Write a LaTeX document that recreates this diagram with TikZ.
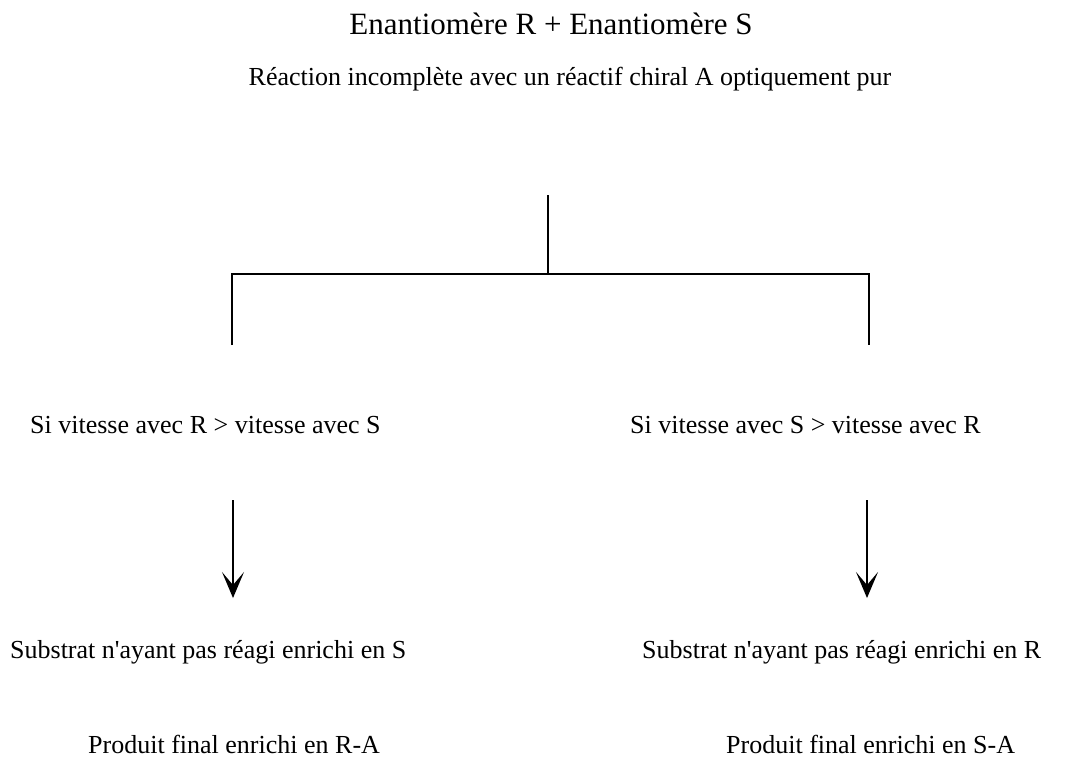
\documentclass[tikz,border=0pt]{standalone}
\usepackage{fontspec}
\setmainfont{Liberation Serif}
\usetikzlibrary{arrows.meta}
\begin{document}
\begin{tikzpicture}[x=1pt,y=-1pt,
  lbl/.style={font=\fontsize{26}{31}\selectfont, inner sep=0pt},
  big/.style={font=\fontsize{31}{37}\selectfont, inner sep=0pt},
  tree/.style={line width=1.8pt},
  arr/.style={line width=1.8pt, -{Stealth[length=26pt,width=22pt,inset=13pt]}}]
\useasboundingbox (0,0) rectangle (1091,780);
\node[big] (t1) at (551,24) {Enantiomère R + Enantiomère S};
\node[lbl] (t2) at (570,79) {Réaction incomplète avec un réactif chiral A optiquement pur};
\node[lbl,anchor=west] (l1) at (30,425) {Si vitesse avec R > vitesse avec S};
\node[lbl,anchor=west] (r1) at (630,425) {Si vitesse avec S > vitesse avec R};
\node[lbl,anchor=west] (l2) at (10,652) {Substrat n\textquotesingle ayant pas réagi enrichi en S};
\node[lbl,anchor=west] (r2) at (642,652) {Substrat n\textquotesingle ayant pas réagi enrichi en R};
\node[lbl,anchor=west] (l3) at (88,744) {Produit final enrichi en R-A};
\node[lbl,anchor=west] (r3) at (726,744) {Produit final enrichi en S-A};
\coordinate (top) at (548,195);
\coordinate (j) at (548,274);
\coordinate (jl) at (232,274);
\coordinate (jr) at (869,274);
\coordinate (lb) at (232,345);
\coordinate (rb) at (869,345);
\draw[tree] (top) -- (j);
\draw[tree] (lb) -- (jl) -- (jr) -- (rb);
\coordinate (a1s) at (233,500);
\coordinate (a1e) at (233,598);
\coordinate (a2s) at (867,500);
\coordinate (a2e) at (867,598);
\draw[arr] (a1s) -- (a1e);
\draw[arr] (a2s) -- (a2e);
\end{tikzpicture}
\end{document}
